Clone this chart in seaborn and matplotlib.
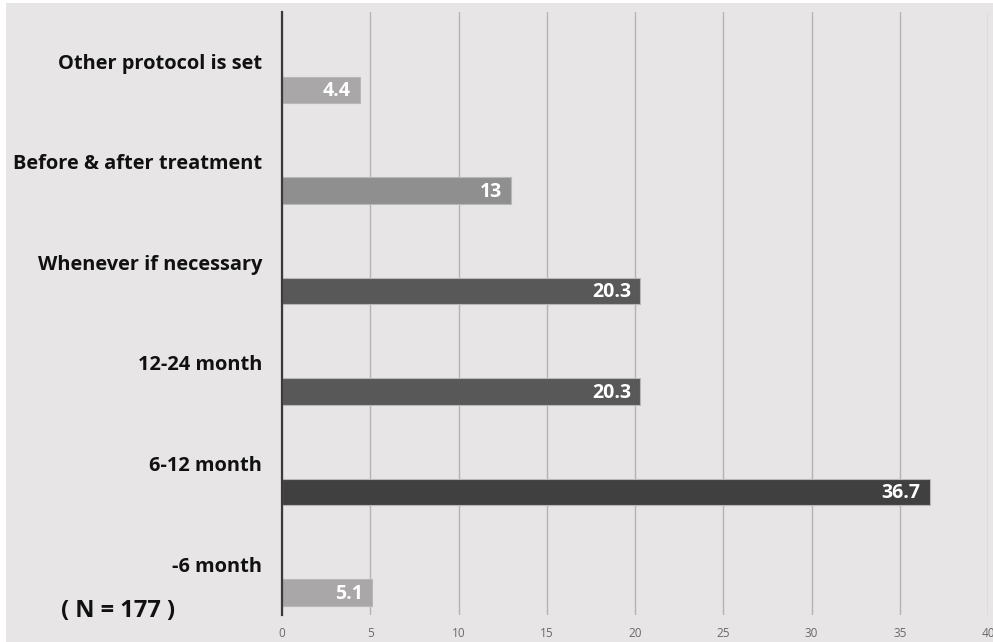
import matplotlib
matplotlib.use("Agg")
import matplotlib.pyplot as plt
import matplotlib.patches as mpatches
import seaborn as sns
import pandas as pd

# Survey answers: how often the check is performed (percent of respondents)
categories = [
    "Other protocol is set",
    "Before & after treatment",
    "Whenever if necessary",
    "12-24 month",
    "6-12 month",
    "-6 month",
]
percents = [4.4, 13, 20.3, 20.3, 36.7, 5.1]
value_labels = ["4.4", "13", "20.3", "20.3", "36.7", "5.1"]
bar_colors = ["#a9a7a7", "#8f8f8f", "#585858", "#585858", "#404040", "#a9a7a7"]
x_ticks = [0, 5, 10, 15, 20, 25, 30, 35, 40]
sample_note = "( N = 177 )"

BG = "#e7e5e6"

sns.set_theme(style="white")
plt.rcParams["font.family"] = ["Open Sans", "DejaVu Sans"]

df = pd.DataFrame({"category": categories, "percent": percents})

fig = plt.figure(figsize=(9.93, 6.42), dpi=100, facecolor="white")
# grey panel with a thin white margin on the left and top
fig.patches.append(mpatches.Rectangle((6 / 993, 0), 1, 1 - 3 / 642,
                                      transform=fig.transFigure,
                                      facecolor=BG, edgecolor="none", zorder=-10))
ax = fig.add_axes([282 / 993, 27 / 642, (988 - 282) / 993, (630 - 27) / 642])
ax.set_facecolor(BG)

sns.barplot(data=df, x="percent", y="category", hue="category",
            palette=bar_colors, order=categories, hue_order=categories,
            legend=False, width=0.265, edgecolor="#b8b8b8", linewidth=0.8,
            saturation=1, ax=ax, zorder=3)

ax.set_xlim(0, 40)
ax.set_ylim(5.222, -0.776)
ax.set_xticks(x_ticks)
ax.set_xticklabels([str(t) for t in x_ticks])
ax.set_yticks([])
ax.set_xlabel("")
ax.set_ylabel("")
ax.xaxis.grid(True, color="#b4b4b4", linewidth=1.0, zorder=0)
ax.set_axisbelow(True)
ax.tick_params(axis="x", length=0, pad=8.5, labelsize=8.5, labelcolor="#6a6a6a")

for side in ("top", "right", "bottom"):
    ax.spines[side].set_visible(False)
ax.spines["left"].set_color("#3a3a3a")
ax.spines["left"].set_linewidth(1.6)
ax.spines["left"].set_zorder(5)

for i, (cat, val, lab) in enumerate(zip(categories, percents, value_labels)):
    # category caption sits above its bar, right-aligned against the axis
    ax.annotate(cat, xy=(0, i - 0.26), xytext=(-20, 0),
                textcoords="offset pixels", ha="right", va="center",
                fontsize=14.4, fontweight="bold", color="#111111",
                annotation_clip=False)
    # value printed inside the bar end
    ax.annotate(lab, xy=(val, i), xytext=(-9, -1),
                textcoords="offset pixels", ha="right", va="center",
                fontsize=14, fontweight="bold", color="white", zorder=6)

fig.text(118 / 993, 1 - 611 / 642, sample_note, ha="center", va="center",
         fontsize=17, fontweight="bold", color="#111111")

fig.savefig("out.png", dpi=100, facecolor=fig.get_facecolor())
